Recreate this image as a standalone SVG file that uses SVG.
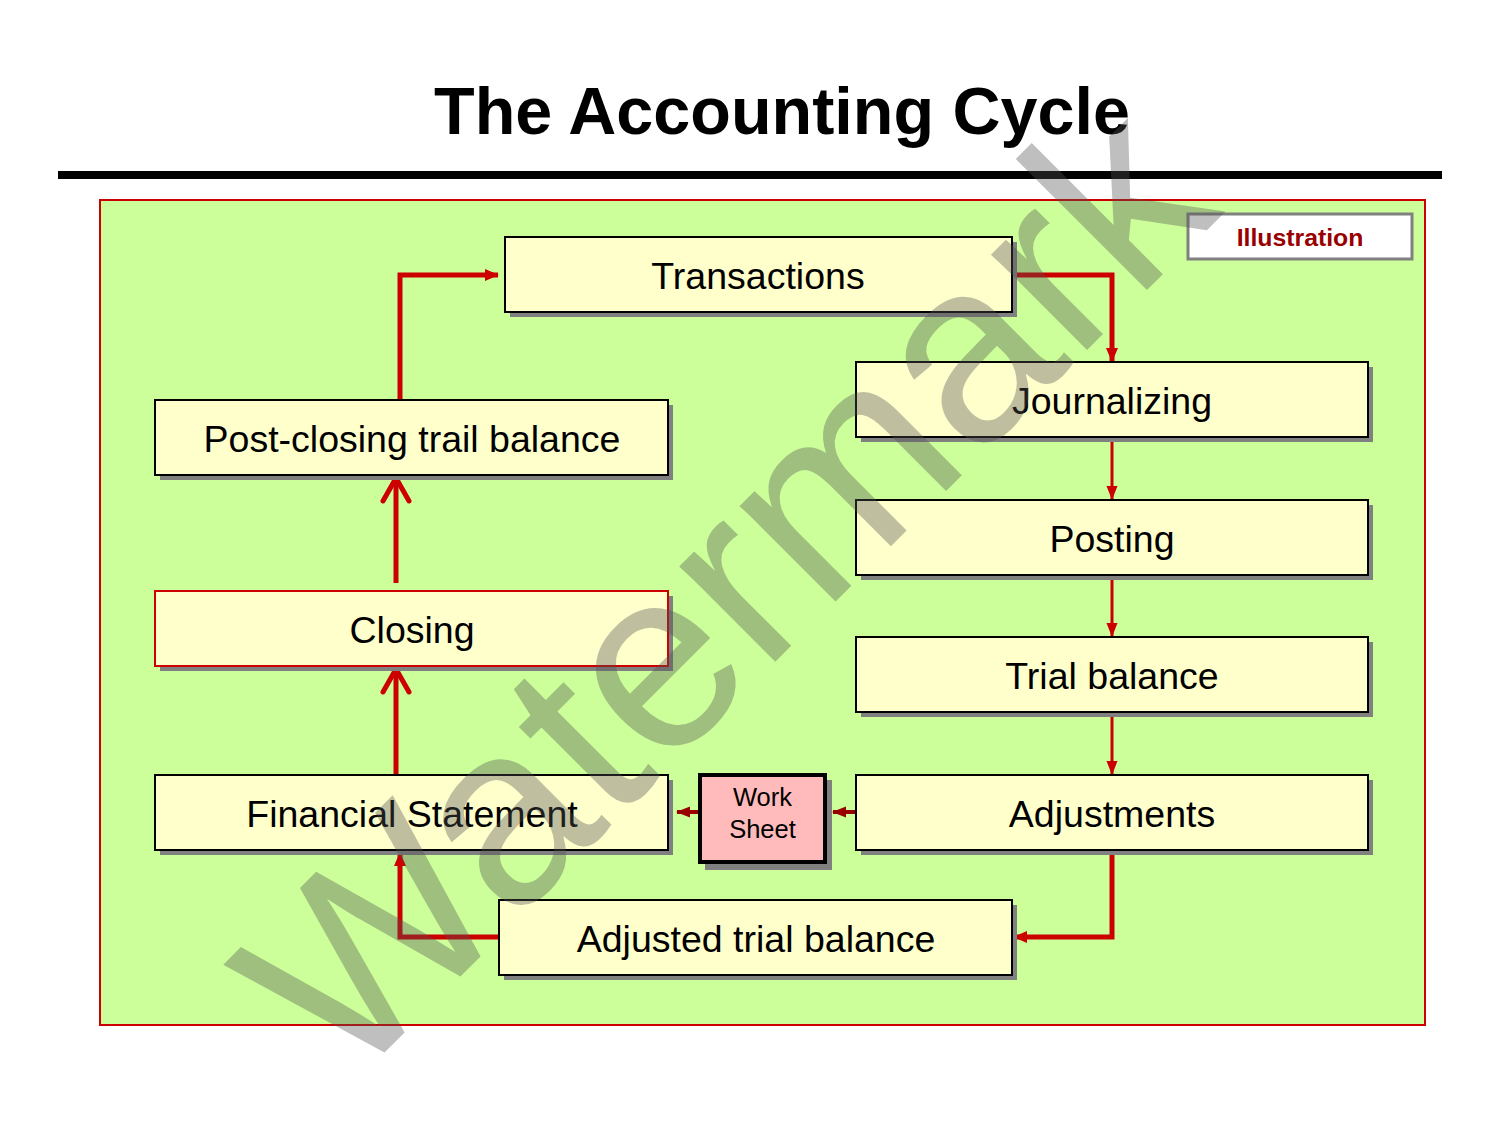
<svg xmlns="http://www.w3.org/2000/svg" width="1500" height="1125" viewBox="0 0 1500 1125">
<style>
.box{fill:#FFFFCC;stroke:#000;stroke-width:2}
.sh{fill:#808080}
.lbl{font-family:"Liberation Sans",Arial,sans-serif;font-size:37.5px;text-anchor:middle;fill:#000}
.con{fill:none;stroke:#CC0000;stroke-width:5}
.thin{fill:none;stroke:#CC0000;stroke-width:3}
.ws{font-family:"Liberation Sans",Arial,sans-serif;font-size:25.5px;text-anchor:middle;fill:#000}
</style>
<defs>
<marker id="tri" markerUnits="userSpaceOnUse" markerWidth="14" markerHeight="14" refX="13" refY="7" orient="auto"><path d="M0,1 L14,7 L0,13 Z" fill="#CC0000"/></marker>
<marker id="tris" markerUnits="userSpaceOnUse" markerWidth="14" markerHeight="14" refX="13" refY="7" orient="auto"><path d="M0,1.5 L14,7 L0,12.5 Z" fill="#CC0000"/></marker>
<marker id="dtri" markerUnits="userSpaceOnUse" markerWidth="14" markerHeight="14" refX="13" refY="7" orient="auto"><path d="M0,1.5 L14,7 L0,12.5 Z" fill="#990000"/></marker>
</defs>
<rect width="1500" height="1125" fill="#fff"/>
<text x="782" y="134" font-family="Liberation Sans,Arial,sans-serif" font-size="66.5" font-weight="bold" text-anchor="middle">The Accounting Cycle</text>
<rect x="58" y="171" width="1384" height="8" fill="#000"/>
<rect x="100" y="200" width="1325" height="825" fill="#CCFF99" stroke="#CC0000" stroke-width="2"/>
<g id="illustration"><rect x="1188" y="214" width="224" height="45" fill="#fff" stroke="#808080" stroke-width="3"/><text x="1300" y="246" font-family="Liberation Sans,Arial,sans-serif" font-size="24.8" font-weight="bold" fill="#990000" text-anchor="middle">Illustration</text></g>
<g id="connectors">
<path class="con" d="M400,400 V275 H498" marker-end="url(#tri)"/>
<path class="con" d="M1012,275 H1112 V361" marker-end="url(#tri)"/>
<path class="thin" d="M1112,439 V499" marker-end="url(#tris)"/>
<path class="thin" d="M1112,577 V636" marker-end="url(#tris)"/>
<path class="thin" d="M1112,714 V774" marker-end="url(#tris)"/>
<path class="con" d="M1112,852 V937 H1014" marker-end="url(#tri)"/>
<path class="con" d="M499,937 H400 V853" marker-end="url(#tri)"/>
<path class="con" d="M396,775 V670"/>
<path d="M383,692 L396,669 L409,692" fill="none" stroke="#CC0000" stroke-width="5" stroke-linecap="round" stroke-linejoin="round"/>
<path class="con" d="M396,583 V479"/>
<path d="M383,501 L396,478 L409,501" fill="none" stroke="#CC0000" stroke-width="5" stroke-linecap="round" stroke-linejoin="round"/>
<path d="M856,812 H833" fill="none" stroke="#990000" stroke-width="4" marker-end="url(#dtri)"/>
<path d="M698,812 H677" fill="none" stroke="#990000" stroke-width="4" marker-end="url(#dtri)"/>
</g>
<g id="transactions"><rect class="sh" x="510" y="242" width="507" height="75"/><rect class="box" x="505" y="237" width="507" height="75"/><text class="lbl" x="758" y="289">Transactions</text></g>
<g id="journalizing"><rect class="sh" x="861" y="367" width="512" height="75"/><rect class="box" x="856" y="362" width="512" height="75"/><text class="lbl" x="1112" y="414">Journalizing</text></g>
<g id="posting"><rect class="sh" x="861" y="505" width="512" height="75"/><rect class="box" x="856" y="500" width="512" height="75"/><text class="lbl" x="1112" y="552">Posting</text></g>
<g id="trial"><rect class="sh" x="861" y="642" width="512" height="75"/><rect class="box" x="856" y="637" width="512" height="75"/><text class="lbl" x="1112" y="689">Trial balance</text></g>
<g id="adjustments"><rect class="sh" x="861" y="780" width="512" height="75"/><rect class="box" x="856" y="775" width="512" height="75"/><text class="lbl" x="1112" y="827">Adjustments</text></g>
<g id="postclosing"><rect class="sh" x="160" y="405" width="513" height="75"/><rect class="box" x="155" y="400" width="513" height="75"/><text class="lbl" x="412" y="452">Post-closing trail balance</text></g>
<g id="closing"><rect class="sh" x="160" y="596" width="513" height="75"/><rect class="box" x="155" y="591" width="513" height="75" style="stroke:#CC0000"/><text class="lbl" x="412" y="643">Closing</text></g>
<g id="financial"><rect class="sh" x="160" y="780" width="513" height="75"/><rect class="box" x="155" y="775" width="513" height="75"/><text class="lbl" x="412" y="827">Financial Statement</text></g>
<g id="adjustedtrial"><rect class="sh" x="504" y="905" width="513" height="75"/><rect class="box" x="499" y="900" width="513" height="75"/><text class="lbl" x="756" y="952">Adjusted trial balance</text></g>
<g id="worksheet"><rect class="sh" x="705" y="780" width="127" height="90"/><rect x="700" y="775" width="125" height="87" fill="#FFBBBB" stroke="#000" stroke-width="4"/><text class="ws" x="762.5" y="806">Work</text><text class="ws" x="762.5" y="838">Sheet</text></g>
<text x="347" y="1090" transform="rotate(-45 347 1090)" font-family="Liberation Sans,Arial,sans-serif" font-size="256" fill="#525252" fill-opacity="0.37">Watermark</text>
</svg>
